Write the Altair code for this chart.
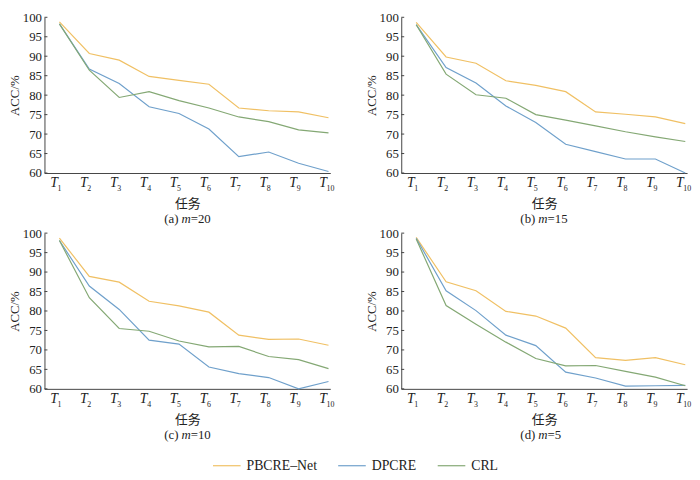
import altair as alt
import pandas as pd

tasks = list(range(1, 11))
subs = [str(t) for t in tasks]
methods = ["PBCRE–Net", "DPCRE", "CRL"]
colors = ["#F0C064", "#6FA0CB", "#84A874"]
yticks = [60, 65, 70, 75, 80, 85, 90, 95, 100]

a_pbcre = [98.8, 90.7, 89.0, 84.8, 83.8, 82.8, 76.7, 76.0, 75.7, 74.2]
a_dpcre = [98.3, 86.7, 83.0, 77.0, 75.3, 71.3, 64.2, 65.4, 62.5, 60.4]
a_crl = [98.3, 86.4, 79.4, 80.9, 78.6, 76.7, 74.4, 73.2, 71.1, 70.3]

b_pbcre = [98.7, 89.8, 88.2, 83.7, 82.5, 80.9, 75.7, 75.1, 74.4, 72.7]
b_dpcre = [98.1, 87.1, 83.1, 77.2, 73.0, 67.4, 65.5, 63.6, 63.6, 60.0]
b_crl = [98.1, 85.4, 80.1, 79.2, 75.0, 73.6, 72.1, 70.6, 69.3, 68.1]

c_pbcre = [98.7, 88.9, 87.4, 82.5, 81.3, 79.7, 73.8, 72.7, 72.8, 71.2]
c_dpcre = [98.1, 86.4, 80.4, 72.5, 71.5, 65.6, 63.9, 62.9, 60.0, 61.9]
c_crl = [98.1, 83.4, 75.5, 74.8, 72.3, 70.8, 70.9, 68.3, 67.5, 65.2]

d_pbcre = [98.9, 87.5, 85.2, 79.9, 78.7, 75.6, 68.0, 67.3, 68.0, 66.2]
d_dpcre = [98.7, 85.2, 80.1, 73.8, 71.1, 64.3, 62.8, 60.7, 60.8, 60.9]
d_crl = [98.5, 81.4, 76.6, 72.0, 67.8, 65.9, 66.0, 64.5, 63.0, 60.8]

panels = [
    ("(a)", "=20", a_pbcre, a_dpcre, a_crl),
    ("(b)", "=15", b_pbcre, b_dpcre, b_crl),
    ("(c)", "=10", c_pbcre, c_dpcre, c_crl),
    ("(d)", "=5", d_pbcre, d_dpcre, d_crl),
]

W = 290
H = 158
SERIF = "Liberation Serif"
INK = "#222"

xscale = alt.Scale(domain=[0.5, 10.06], nice=False, zero=False)
yscale = alt.Scale(domain=[60, 100], nice=False, zero=False)
xaxis = alt.Axis(
    values=tasks, labelExpr="'T'", labelFont=SERIF, labelFontStyle="italic",
    labelFontSize=14, labelOffset=-6, labelPadding=3, ticks=False, grid=False,
    labelOverlap=False, labelFlush=False,
    title="任务", titleFont="Noto Sans CJK SC", titleFontSize=13,
    titleFontWeight="normal", titlePadding=8,
)
yaxis = alt.Axis(
    values=yticks, ticks=False, grid=False, labelFont=SERIF, labelFontSize=13,
    labelOverlap=False, labelPadding=3, title="ACC/%", titleFont=SERIF,
    titleFontSize=13, titleFontWeight="normal", titlePadding=1,
)


def panel(prefix, suffix, p, d, c):
    df = pd.DataFrame({
        "task": tasks * 3,
        "acc": p + d + c,
        "method": [m for m in methods for _ in tasks],
    })
    lines = alt.Chart(df).mark_line(strokeWidth=1.2).encode(
        x=alt.X("task:Q", scale=xscale, axis=xaxis, title="任务"),
        y=alt.Y("acc:Q", scale=yscale, axis=yaxis, title="ACC/%"),
        color=alt.Color("method:N", scale=alt.Scale(domain=methods, range=colors),
                        legend=alt.Legend(title=None)),
    )
    tdf = pd.DataFrame({"v": yticks})
    ticks = alt.Chart(tdf).mark_rule(color="#444", strokeWidth=1).encode(
        y=alt.Y("v:Q", scale=yscale, axis=yaxis, title="ACC/%"),
        x=alt.value(0), x2=alt.value(3)
    )
    sdf = pd.DataFrame({"task": tasks, "s": subs})
    subtext = alt.Chart(sdf).mark_text(
        font=SERIF, fontSize=8, align="left", baseline="alphabetic", dx=-2, color=INK
    ).encode(x=alt.X("task:Q", scale=xscale, axis=xaxis, title="任务"),
             text="s:N", y=alt.value(H + 18))
    one = pd.DataFrame({"k": [0]})
    t1 = alt.Chart(one).mark_text(font=SERIF, fontSize=13, align="right", baseline="alphabetic",
                                  color=INK).encode(
        x=alt.value(W / 2 - 9), y=alt.value(H + 51), text=alt.value(prefix))
    t2 = alt.Chart(one).mark_text(font=SERIF, fontSize=13, fontStyle="italic", align="center",
                                  baseline="alphabetic", color=INK).encode(
        x=alt.value(W / 2 - 1.3), y=alt.value(H + 51), text=alt.value("m"))
    t3 = alt.Chart(one).mark_text(font=SERIF, fontSize=13, align="left", baseline="alphabetic",
                                  color=INK).encode(
        x=alt.value(W / 2 + 3.4), y=alt.value(H + 51), text=alt.value(suffix))
    return alt.layer(lines, ticks, subtext, t1, t2, t3).properties(width=W, height=H)


charts = [panel(*p) for p in panels]
chart = alt.vconcat(
    alt.hconcat(charts[0], charts[1], spacing=30),
    alt.hconcat(charts[2], charts[3], spacing=30),
    spacing=1,
).properties(padding=0).configure_view(stroke=None).configure_axis(
    domainColor="#444", labelColor=INK, titleColor=INK
).configure_legend(
    orient="none", legendX=170, legendY=440, direction="horizontal", symbolType="stroke",
    symbolSize=784, symbolStrokeWidth=1.2, labelFont=SERIF, labelFontSize=14,
    labelColor=INK, columnPadding=18, labelOffset=5
)

chart.save("out.html", embed_options={"renderer": "svg", "actions": False})
